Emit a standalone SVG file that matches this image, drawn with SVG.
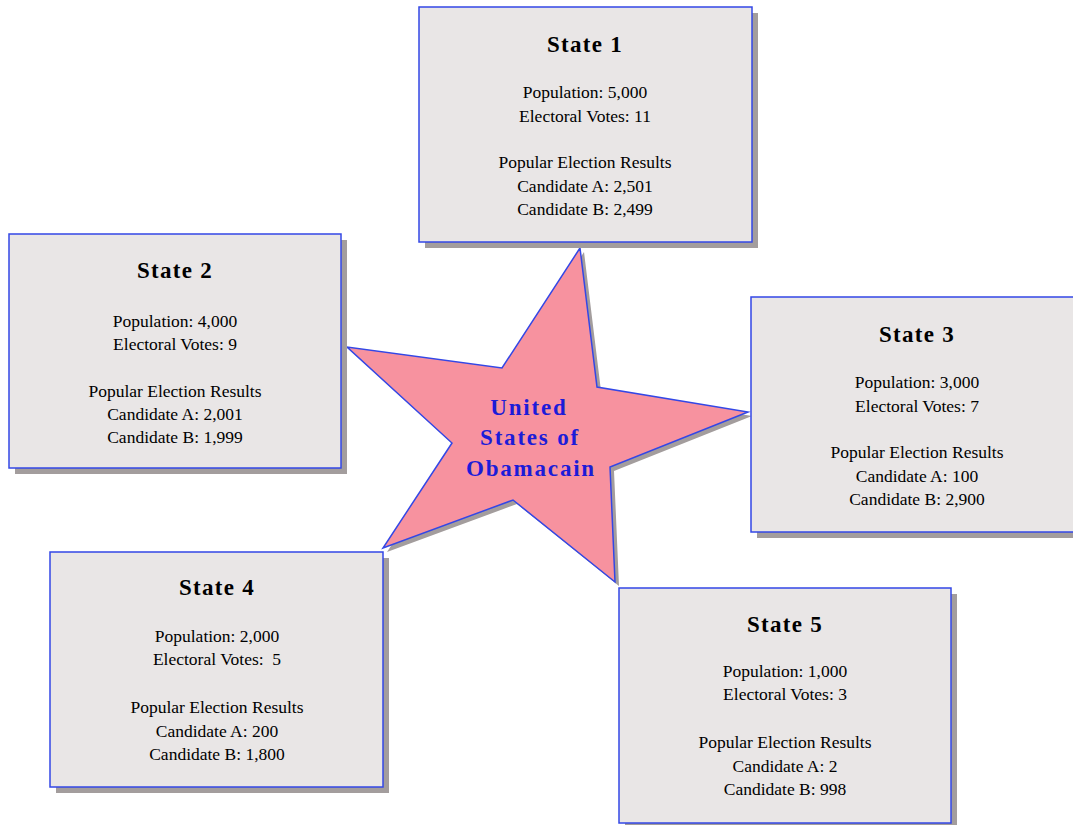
<svg xmlns="http://www.w3.org/2000/svg" width="1073" height="825" viewBox="0 0 1073 825">
<style>
.shadow{fill:#a39d9d}
.box{fill:#e9e6e6;stroke:#3347e6;stroke-width:1.5}
.title{font-family:"Liberation Serif",serif;font-weight:bold;font-size:23px;letter-spacing:1.3px;fill:#000;text-anchor:middle}
.body{font-family:"Liberation Serif",serif;font-size:17.5px;fill:#000;text-anchor:middle}
.star{fill:#f7929f;stroke:#3347e6;stroke-width:1.5;stroke-linejoin:miter}
.starshadow{fill:#a39d9d}
.startext{font-family:"Liberation Serif",serif;font-weight:bold;font-size:23px;letter-spacing:1.8px;fill:#1c1cd8;text-anchor:middle}
</style>
<rect width="1073" height="825" fill="#ffffff"/>
<g id="connectors"></g>
<g id="star">
<polygon class="starshadow" transform="translate(4,4)" points="580,248 597,387 748,412 610,467 615,582 513,500 383,548 452,443 347,347 502,368"/>
<polygon class="star" points="580,248 597,387 748,412 610,467 615,582 513,500 383,548 452,443 347,347 502,368"/>
<text class="startext" x="529" y="415">United</text>
<text class="startext" x="530" y="445">States of</text>
<text class="startext" x="531" y="476">Obamacain</text>
</g>
<g id="state1">
<rect class="shadow" x="425" y="13" width="333" height="235"/>
<rect class="box" x="419" y="7" width="333" height="235"/>
<text class="title" x="585" y="52">State 1</text>
<text class="body" x="585" y="98">Population: 5,000</text>
<text class="body" x="585" y="122">Electoral Votes: 11</text>
<text class="body" x="585" y="168">Popular Election Results</text>
<text class="body" x="585" y="192">Candidate A: 2,501</text>
<text class="body" x="585" y="215">Candidate B: 2,499</text>
</g>
<g id="state2">
<rect class="shadow" x="15" y="240" width="332" height="234"/>
<rect class="box" x="9" y="234" width="332" height="234"/>
<text class="title" x="175" y="278">State 2</text>
<text class="body" x="175" y="327">Population: 4,000</text>
<text class="body" x="175" y="350">Electoral Votes: 9</text>
<text class="body" x="175" y="397">Popular Election Results</text>
<text class="body" x="175" y="420">Candidate A: 2,001</text>
<text class="body" x="175" y="443">Candidate B: 1,999</text>
</g>
<g id="state3">
<rect class="shadow" x="757" y="303" width="332" height="235"/>
<rect class="box" x="751" y="297" width="332" height="235"/>
<text class="title" x="917" y="342">State 3</text>
<text class="body" x="917" y="388">Population: 3,000</text>
<text class="body" x="917" y="412">Electoral Votes: 7</text>
<text class="body" x="917" y="458">Popular Election Results</text>
<text class="body" x="917" y="482">Candidate A: 100</text>
<text class="body" x="917" y="505">Candidate B: 2,900</text>
</g>
<g id="state4">
<rect class="shadow" x="56" y="558" width="333" height="235"/>
<rect class="box" x="50" y="552" width="333" height="235"/>
<text class="title" x="217" y="595">State 4</text>
<text class="body" x="217" y="642">Population: 2,000</text>
<text class="body" x="217" y="665" xml:space="preserve">Electoral Votes:  5</text>
<text class="body" x="217" y="713">Popular Election Results</text>
<text class="body" x="217" y="737">Candidate A: 200</text>
<text class="body" x="217" y="760">Candidate B: 1,800</text>
</g>
<g id="state5">
<rect class="shadow" x="625" y="594" width="332" height="235"/>
<rect class="box" x="619" y="588" width="332" height="235"/>
<text class="title" x="785" y="632">State 5</text>
<text class="body" x="785" y="677">Population: 1,000</text>
<text class="body" x="785" y="700">Electoral Votes: 3</text>
<text class="body" x="785" y="748">Popular Election Results</text>
<text class="body" x="785" y="772">Candidate A: 2</text>
<text class="body" x="785" y="795">Candidate B: 998</text>
</g>
</svg>
